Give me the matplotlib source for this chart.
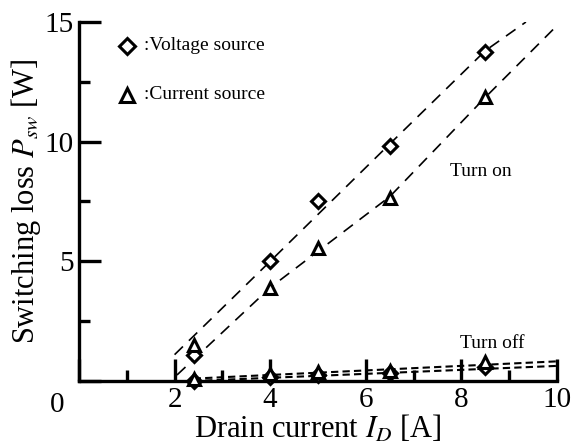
import matplotlib
matplotlib.use("Agg")
from matplotlib import pyplot as plt

plt.rcParams["font.family"] = ["Liberation Serif", "DejaVu Serif"]
plt.rcParams["mathtext.fontset"] = "stix"

# drain current of the measured points [A]
current = [2.4, 4.0, 5.0, 6.5, 8.5]

# turn-on switching loss [W]
on_voltage = [1.1, 5.0, 7.5, 9.8, 13.75]
on_current = [1.5, 3.9, 5.55, 7.65, 11.85]

# turn-off switching loss [W]
off_voltage = [0.0, 0.15, 0.25, 0.35, 0.6]
off_current = [0.1, 0.3, 0.37, 0.4, 0.8]

# dashed trend lines
on_voltage_fit_x = [2.0, 4.0, 6.5, 8.5, 9.35]
on_voltage_fit = [1.1, 5.0, 9.9, 13.8, 15.0]
on_current_fit_x = [2.05, 4.0, 6.5, 8.5, 10.0]
on_current_fit = [0.25, 3.9, 7.7, 11.85, 14.85]
off_fit_x = [2.4, 10.0]
off_voltage_fit = [0.0, 0.63]
off_current_fit = [0.1, 0.82]

fig = plt.figure(figsize=[5.79, 4.47], dpi=100)
ax = fig.add_axes([0.1364, 0.1477, 0.8256, 0.8031])

dash_on = (0, (7, 5))
dash_off = (0, (3.5, 2))
ax.plot(on_voltage_fit_x, on_voltage_fit, color="black", lw=1.2, linestyle=dash_on, zorder=2)
ax.plot(on_current_fit_x, on_current_fit, color="black", lw=1.2, linestyle=dash_on, zorder=2)
ax.plot(off_fit_x, off_voltage_fit, color="black", lw=1.5, linestyle=dash_off, zorder=2, clip_on=False)
ax.plot(off_fit_x, off_current_fit, color="black", lw=1.5, linestyle=dash_off, zorder=2, clip_on=False)

diamond = dict(marker="D", linestyle="none", markersize=7.5, markeredgewidth=2.2,
               markerfacecolor="white", markeredgecolor="black", zorder=3, clip_on=False)
triangle = dict(marker="^", linestyle="none", markersize=9, markeredgewidth=2.2,
                markerfacecolor="white", markeredgecolor="black", zorder=3, clip_on=False)

ax.plot(current, on_voltage, **diamond)
ax.plot(current, off_voltage, **diamond)
ax.plot(current, on_current, **triangle)
ax.plot(current, off_current, **triangle)

# legend drawn by hand, as in the figure
ax.plot([1.0], [14.0], **{**diamond, "markersize": 8.5})
ax.plot([1.0], [11.95], **{**triangle, "markersize": 10})
ax.text(1.35, 14.0, ":Voltage source", fontsize=14, va="center", ha="left")
ax.text(1.35, 11.95, ":Current source", fontsize=14, va="center", ha="left")

ax.text(8.4, 8.75, "Turn on", fontsize=14, ha="center", va="center")
ax.text(8.65, 1.55, "Turn off", fontsize=14, ha="center", va="center")

ax.set_xlim(0, 10)
ax.set_ylim(0, 15)
ax.set_xticks([0, 2, 4, 6, 8, 10], ["", "2", "4", "6", "8", "10"])
ax.set_xticks([1, 3, 5, 7, 9], minor=True)
ax.set_yticks([0, 5, 10, 15], ["", "5", "10", "15"])
ax.set_yticks([2.5, 7.5, 12.5], minor=True)
ax.tick_params(which="major", direction="in", length=16, width=2.4, labelsize=21)
ax.tick_params(which="minor", direction="in", length=8, width=2.4)
ax.tick_params(axis="x", which="major", pad=4)
ax.tick_params(axis="y", which="major", pad=4)

# shared "0" at the corner
ax.text(-0.46, -1.0, "0", fontsize=21, ha="center", va="center", clip_on=False)

for side in ["top", "right"]:
    ax.spines[side].set_visible(False)
for side in ["left", "bottom"]:
    ax.spines[side].set_linewidth(2.4)

ax.set_xlabel("Drain current $I_D$ [A]", fontsize=22, labelpad=0.5)
ax.set_ylabel("Switching loss $P_{sw}$ [W]", fontsize=22, labelpad=1)

plt.savefig("out.png", dpi=100)
